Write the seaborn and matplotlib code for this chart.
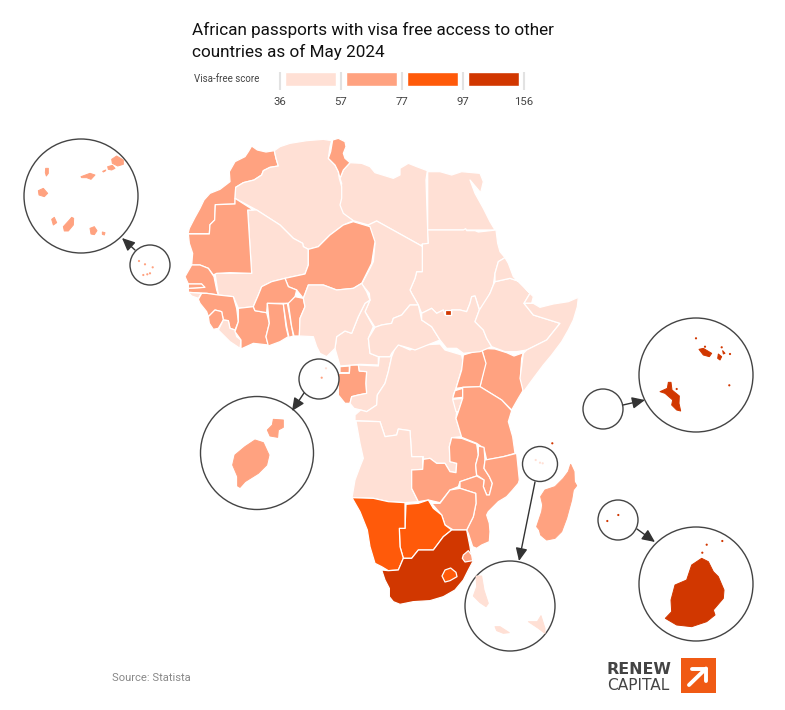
import matplotlib
matplotlib.use("Agg")
import matplotlib.pyplot as plt
from matplotlib.patches import Circle, Polygon, Rectangle
import pandas as pd
import seaborn as sns

# ---- legend data
BIN_LABELS = ["36-57", "57-77", "77-97", "97-156"]
BIN_EDGES = ["36", "57", "77", "97", "156"]
BIN_COLOURS = ["#FFE0D5", "#FFA280", "#FF5A0A", "#D13700"]
LIGHT, MEDIUM, ORANGE, DARK = BIN_COLOURS

# ---- outlines (panel A: origin 180,130; B: 320,130; C: 330,340; 1/3 px units)
MOROCCO = [(215,48),(232,60),(258,66),(283,62),(288,85),(295,108),(270,112),(250,122),(245,135),(222,150),(190,158),(167,172),(165,222),(106,224),(104,270),(90,284),(88,311),(24,311),(28,295),(45,262),(60,235),(72,210),(90,190),(120,178),(150,155),(148,125),(165,95),(195,80),(205,65)]
ALGERIA = [(283,62),(300,50),(330,40),(380,32),(430,28),(455,32),(450,50),(445,85),(465,105),(475,125),(478,145),(485,170),(485,205),(480,225),(490,250),(520,272),(490,285),(450,315),(415,350),(385,358),(370,350),(368,340),(340,325),(300,285),(230,240),(165,205),(167,172),(190,158),(222,150),(245,135),(250,122),(270,112),(295,108),(288,85)]
TUNISIA = [(458,30),(475,25),(495,35),(498,50),(490,70),(495,85),(510,98),(490,120),(480,145),(475,125),(465,105),(445,85),(452,65)]
NIGER = [(520,275),(570,290),(585,335),(575,400),(545,460),(520,475),(470,480),(430,465),(385,465),(370,505),(350,480),(325,470),(315,445),(375,432),(385,405),(385,358),(415,350),(450,315),(490,285)]
MALI = [(230,240),(300,285),(340,325),(368,340),(370,350),(385,358),(385,405),(375,432),(315,445),(275,455),(245,470),(235,495),(220,530),(175,535),(160,500),(115,495),(105,430),(215,430),(203,240)]
MAURITANIA = [(165,205),(220,240),(203,240),(215,430),(150,428),(110,430),(100,435),(85,415),(60,405),(35,405),(38,370),(28,340),(25,312),(88,312),(90,284),(104,270),(106,224),(165,222)]
SENEGAL = [(35,405),(60,405),(85,415),(102,440),(110,480),(115,495),(80,490),(25,487),(25,475),(70,472),(65,462),(25,462),(15,440)]
GAMBIA = [(25,462),(65,462),(75,472),(25,475)]
GUINEA_BISSAU = [(25,487),(65,490),(55,505),(35,498)]
GUINEA = [(80,490),(115,495),(160,500),(170,535),(175,575),(165,600),(150,595),(145,572),(130,570),(125,545),(105,540),(85,560),(80,545),(60,520),(55,508),(65,490)]
SIERRA_LEONE = [(85,560),(105,540),(125,545),(130,570),(115,595),(100,598),(88,580)]
LIBERIA = [(130,570),(145,572),(150,595),(165,600),(170,620),(183,630),(180,655),(150,635),(115,600)]
IVORY_COAST = [(175,535),(220,530),(225,542),(260,548),(268,580),(258,620),(265,645),(220,640),(183,657),(183,630),(165,605),(175,575)]
BURKINA = [(315,445),(325,470),(350,480),(345,500),(330,520),(262,520),(260,548),(225,542),(220,530),(235,495),(245,470),(275,455)]
GHANA = [(262,520),(310,522),(318,590),(325,620),(300,635),(265,648),(258,620),(268,580)]
TOGO = [(310,522),(322,520),(335,590),(340,618),(327,622),(320,590)]
BENIN = [(325,520),(345,500),(370,505),(375,530),(360,565),(358,618),(342,618),(335,590)]
NIGERIA = [(385,465),(430,465),(470,480),(520,475),(545,460),(560,485),(570,510),(555,520),(535,560),(515,610),(495,603),(470,620),(465,655),(440,680),(420,670),(410,650),(400,620),(358,618),(360,565),(375,530),(370,505)]

LIBYA = [(90,98),(125,100),(150,110),(165,128),(220,145),(240,135),(240,115),(265,100),(290,110),(322,122),(318,150),(323,300),(325,340),(305,348),(170,273),(145,285),(100,272),(65,250),(55,230),(62,195),(65,160),(60,145),(70,120)]
EGYPT = [(323,125),(360,125),(395,135),(425,125),(480,130),(490,155),(482,188),(450,150),(465,190),(490,235),(510,275),(525,300),(323,300)]
SUDAN = [(323,300),(430,300),(437,296),(440,302),(465,302),(475,306),(528,300),(533,340),(540,365),(555,383),(535,395),(525,430),(520,465),(510,490),(490,530),(478,538),(465,498),(455,500),(450,520),(440,545),(420,540),(395,540),(395,555),(375,555),(370,540),(350,550),(335,535),(305,550),(295,525),(275,490),(270,480),(285,445),(290,425),(307,425),(307,342),(325,340)]
CHAD = [(170,273),(305,348),(307,342),(307,425),(290,425),(285,445),(270,480),(275,490),(295,525),(270,525),(245,555),(220,565),(215,580),(185,585),(165,592),(135,545),(150,510),(148,490),(125,462),(150,415),(160,395),(165,340),(152,312),(145,285)]
CAMEROON = [(150,510),(135,520),(115,560),(95,610),(75,603),(50,620),(45,655),(55,690),(60,708),(120,703),(175,705),(175,680),(150,670),(145,625),(160,590),(135,545)]
CAR = [(145,625),(165,592),(185,585),(215,580),(220,565),(245,555),(270,525),(295,525),(305,570),(335,590),(360,630),(335,640),(285,660),(270,655),(235,645),(215,670),(210,680),(175,680),(150,670)]
SOUTH_SUDAN = [(305,550),(335,535),(350,550),(370,540),(375,555),(395,555),(395,540),(420,540),(440,545),(450,520),(455,500),(465,498),(478,540),(465,575),(490,600),(500,625),(515,650),(480,665),(430,670),(410,655),(380,655),(360,630),(335,590),(305,570)]
ETHIOPIA = [(525,455),(570,445),(600,455),(630,490),(612,520),(640,555),(720,580),(680,630),(620,660),(590,665),(555,665),(515,650),(500,625),(490,600),(465,575),(478,540),(510,490),(520,465)]
ERITREA = [(535,395),(555,383),(565,400),(580,440),(630,490),(600,455),(570,445),(525,455),(525,430)]
DJIBOUTI = [(630,490),(640,500),(635,520),(612,520)]
SOMALIA = [(640,520),(660,532),(700,522),(745,515),(775,502),(772,530),(760,570),(745,600),(725,635),(695,675),(670,705),(640,745),(610,786),(600,745),(610,670),(620,660),(680,630),(720,580),(640,555),(612,520)]
ENCLAVE = [(375,540),(392,540),(392,555),(375,555)]

EQ_GUINEA = [(30,80),(58,78),(58,98),(30,98)]
GABON = [(60,75),(85,75),(88,93),(110,95),(108,130),(110,160),(85,165),(65,170),(60,190),(45,190),(25,165),(25,100),(58,100)]
CONGO = [(60,190),(65,170),(85,165),(110,160),(108,130),(110,95),(88,93),(85,75),(145,78),(148,50),(185,50),(175,95),(165,130),(142,165),(140,195),(110,215),(92,210),(72,205)]
DRC = [(185,50),(200,12),(240,30),(270,15),(330,12),(345,30),(395,45),(400,70),(378,145),(370,165),(380,215),(378,235),(395,290),(365,293),(358,320),(360,365),(380,370),(378,398),(360,395),(345,370),(320,370),(300,355),(280,358),(280,350),(245,350),(240,272),(205,267),(200,285),(165,290),(150,245),(75,242),(75,225),(92,210),(110,215),(140,195),(142,165),(165,130),(175,95)]
ANGOLA = [(78,243),(150,245),(165,290),(200,285),(205,267),(240,272),(245,350),(278,350),(278,388),(245,390),(245,445),(265,485),(225,488),(175,485),(130,475),(66,473),(75,420),(90,380),(100,355),(90,310)]
KENYA = [(455,25),(495,27),(530,38),(552,48),(580,38),(575,55),(572,100),(580,150),(565,175),(545,210),(515,180),(450,140),(460,95),(465,65)]
UGANDA = [(400,45),(455,28),(468,70),(450,140),(400,142),(378,145),(395,90)]
RWANDA = [(375,152),(398,145),(398,172),(368,175)]
BURUNDI = [(368,178),(398,175),(385,215),(378,215)]
TANZANIA = [(398,142),(450,140),(515,180),(545,212),(535,245),(548,290),(555,340),(520,350),(470,360),(462,325),(440,310),(395,292),(378,235),(385,215),(398,175)]
ZAMBIA = [(245,390),(278,388),(280,358),(300,355),(320,370),(345,370),(360,395),(378,398),(380,370),(360,365),(358,320),(365,293),(395,295),(440,312),(445,345),(437,375),(440,408),(390,425),(385,440),(360,450),(330,488),(295,480),(265,485),(245,445)]
MALAWI = [(445,318),(462,322),(465,360),(462,385),(478,410),(487,430),(478,465),(470,465),(460,440),(462,420),(440,405),(437,375),(445,345)]
MOZAMBIQUE = [(465,360),(520,350),(560,340),(568,420),(565,430),(548,450),(530,470),(505,485),(490,500),(475,515),(470,525),(478,550),(480,575),(478,605),(455,615),(440,625),(428,620),(415,580),(410,570),(430,530),(438,490),(437,460),(390,445),(390,425),(440,408),(462,420),(460,440),(470,465),(478,465),(487,430),(478,410),(462,385)]
ZIMBABWE = [(330,490),(360,450),(390,445),(437,460),(438,490),(430,530),(410,570),(370,570),(345,555),(335,525),(305,490)]
BOTSWANA = [(228,493),(265,490),(295,480),(310,505),(335,525),(345,555),(365,570),(340,590),(310,630),(265,630),(245,655),(220,655),(210,620),(208,565),(225,565)]
NAMIBIA = [(66,473),(130,475),(175,485),(225,488),(225,565),(208,565),(210,620),(220,655),(205,690),(175,692),(155,680),(135,670),(120,620),(112,570),(90,515)]
SOUTH_AFRICA = [(155,690),(175,692),(205,690),(220,655),(245,655),(265,630),(310,630),(340,590),(365,570),(410,570),(420,620),(425,655),(432,658),(415,690),(400,720),(375,750),(340,770),(300,782),(250,785),(210,793),(190,785),(178,770),(178,745),(165,720)]
ESWATINI = [(400,645),(415,632),(425,645),(428,662),(405,666),(397,655)]
LESOTHO = [(336,708),(345,690),(362,684),(378,697),(381,710),(360,722),(345,726)]

PANEL_A = [(MOROCCO,MEDIUM),(ALGERIA,LIGHT),(TUNISIA,MEDIUM),(MALI,LIGHT),(MAURITANIA,MEDIUM),(NIGER,MEDIUM),(SENEGAL,MEDIUM),(GAMBIA,MEDIUM),(GUINEA_BISSAU,LIGHT),(GUINEA,MEDIUM),(SIERRA_LEONE,MEDIUM),(LIBERIA,LIGHT),(IVORY_COAST,MEDIUM),(BURKINA,MEDIUM),(GHANA,MEDIUM),(TOGO,MEDIUM),(BENIN,MEDIUM),(NIGERIA,LIGHT)]
PANEL_B = [(LIBYA,LIGHT),(EGYPT,LIGHT),(SUDAN,LIGHT),(CHAD,LIGHT),(CAMEROON,LIGHT),(CAR,LIGHT),(SOUTH_SUDAN,LIGHT),(ETHIOPIA,LIGHT),(ERITREA,LIGHT),(DJIBOUTI,LIGHT),(SOMALIA,LIGHT),(ENCLAVE,DARK)]
PANEL_C = [(EQ_GUINEA,MEDIUM),(GABON,MEDIUM),(CONGO,LIGHT),(DRC,LIGHT),(ANGOLA,LIGHT),(KENYA,MEDIUM),(UGANDA,MEDIUM),(RWANDA,MEDIUM),(BURUNDI,LIGHT),(TANZANIA,MEDIUM),(ZAMBIA,MEDIUM),(MALAWI,MEDIUM),(MOZAMBIQUE,MEDIUM),(ZIMBABWE,MEDIUM),(BOTSWANA,ORANGE),(NAMIBIA,ORANGE),(SOUTH_AFRICA,DARK),(ESWATINI,MEDIUM),(LESOTHO,ORANGE)]

# ---- islands
MADAGASCAR = [[(122,28),(132,50),(133,80),(140,92),(130,105),(125,135),(110,190),(95,230),(75,250),(50,255),(32,240),(28,225),(20,215),(35,170),(38,150),(32,125),(45,105),(75,95),(100,70),(115,50)]]
CAPE_VERDE = [
 [(290,88),(305,78),(325,90),(325,103),(308,108),(292,100)],
 [(278,110),(292,106),(300,115),(290,120),(280,118)],
 [(198,140),(225,130),(240,135),(228,148),(215,143),(200,143)],
 [(92,115),(100,115),(100,130),(94,138),(91,128)],
 [(70,182),(85,175),(98,190),(88,200),(72,195)],
 [(110,268),(118,262),(125,278),(115,285)],
 [(145,290),(165,268),(170,262),(176,265),(175,285),(160,303),(148,303)],
 [(225,295),(238,290),(246,302),(238,314),(228,312)],
 [(262,306),(270,308),(268,315),(262,313)],
 [(263,124),(272,120),(272,122),(265,126)]]
SAO_TOME = [
 [(180,270),(205,278),(222,315),(215,345),(190,370),(150,395),(135,412),(128,408),(128,380),(113,345),(120,315),(150,290)],
 [(235,208),(265,210),(265,232),(250,240),(248,262),(225,258),(217,240),(232,225)]]
COMOROS = [
 [(48,408),(65,408),(72,450),(85,490),(78,500),(60,488),(40,468),(50,440)],
 [(105,560),(120,560),(148,578),(130,580),(110,572)],
 [(205,545),(232,545),(243,527),(255,565),(255,580),(235,565)]]
SEYCHELLES = [
 [(265,217),(273,217),(276,240),(298,258),(297,280),(302,303),(290,300),(275,285),(278,270),(255,250),(240,245),(262,235)],
 [(357,118),(370,115),(395,130),(388,140),(370,135)],
 [(415,132),(425,140),(420,150),(413,145)],
 [(428,122),(435,130),(430,132)]]
MAURITIUS = [
 [(365,745),(385,755),(400,785),(415,800),(432,840),(430,865),(400,900),(405,915),(380,935),(335,950),(290,945),(256,925),(275,905),(273,870),(285,825),(320,810),(335,765)]]

DOTS_X = [139.0,145.0,152.7,147.3,150.0,143.3, 321.7,326.0, 535.7,540.0,542.7,552.3, 676.7,729.3,705.0,721.7,696.0,730.0, 706.7,722.3,702.3, 618.3,607.3]
DOTS_Y = [261.0,264.3,267.3,274.3,273.3,275.0, 377.7,368.3, 460.0,462.7,463.3,443.3, 389.0,385.3,346.7,347.3,338.3,354.0, 544.7,541.0,552.7, 515.0,521.0]
DOTS_C = [MEDIUM]*6+[MEDIUM,LIGHT]+[LIGHT]*3+[DARK]+[DARK]*6+[DARK]*5

CIRCLES_X = [81,150,257,319,510,540,696,603,696,618]
CIRCLES_Y = [196,265,453,379,606,464,375,409,584,520]
CIRCLES_R = [57,20,56.5,20,45,17.5,57,20,57,20]
ARROW_TAIL = [(135,250),(304,393),(535,482),(623,405),(637,529)]
ARROW_TIP = [(122,238),(292,411),(519,561),(645,400),(655,542)]

TITLE = "African passports with visa free access to other\ncountries as of May 2024"
SOURCE = "Source: Statista"
LOGO_SHAFT_X = [689, 706]
LOGO_SHAFT_Y = [685, 668.5]
LOGO_HEAD_X = [692, 706, 706]
LOGO_HEAD_Y = [668.5, 668.5, 681]

sns.set_theme(style="white")
plt.rcParams["font.family"] = ["Roboto", "DejaVu Sans"]

fig = plt.figure(figsize=(7.85, 7.10), dpi=100, facecolor="white")
ax = fig.add_axes([0, 0, 1, 1])

def to_px(points, ox, oy):
    return [(ox + x / 3, oy + y / 3) for x, y in points]

for panel, ox, oy in ((PANEL_C, 330, 340), (PANEL_B, 320, 130), (PANEL_A, 180, 130)):
    for shape, colour in panel:
        ax.add_patch(Polygon(to_px(shape, ox, oy), closed=True, facecolor=colour,
                             edgecolor="white", linewidth=0.9, joinstyle="round", zorder=2))

for x, y, r in zip(CIRCLES_X, CIRCLES_Y, CIRCLES_R):
    ax.add_patch(Circle((x, y), r, facecolor="white", edgecolor="#444444", linewidth=1.0, zorder=3))

ISLANDS = [(MADAGASCAR, 530, 455, MEDIUM), (CAPE_VERDE, 15, 130, MEDIUM), (SAO_TOME, 195, 350, MEDIUM),
           (COMOROS, 460, 440, LIGHT), (SEYCHELLES, 580, 310, DARK), (MAURITIUS, 580, 310, DARK)]
for shapes, ox, oy, colour in ISLANDS:
    for shape in shapes:
        ax.add_patch(Polygon(to_px(shape, ox, oy), closed=True, facecolor=colour, edgecolor=colour,
                             linewidth=0.7, joinstyle="round", zorder=4))

dots = pd.DataFrame({"x": DOTS_X, "y": DOTS_Y, "c": DOTS_C})
sns.scatterplot(data=dots, x="x", y="y", hue="c", palette={c: c for c in BIN_COLOURS}, s=2.5,
                linewidth=0, legend=False, ax=ax, zorder=5)

for tail, tip in zip(ARROW_TAIL, ARROW_TIP):
    ax.annotate("", xy=tip, xytext=tail, zorder=6,
                arrowprops=dict(arrowstyle="-|>,head_length=0.7,head_width=0.32", color="#333333",
                                lw=1.0, shrinkA=0, shrinkB=0, mutation_scale=11))

ax.text(192, 41, TITLE, fontsize=12.3, color="#111111", va="center", ha="left", linespacing=1.42)
ax.text(194, 79, "Visa-free score", fontsize=7.0, color="#444444", va="center", ha="left")
ax.text(112, 678, SOURCE, fontsize=8.1, color="#888888", va="center", ha="left")

# logo
ax.text(607, 670, "RENEW", fontsize=11.4, fontweight="bold", family="DejaVu Sans", color="#444444", va="center", ha="left")
ax.text(607, 686, "CAPITAL", fontsize=11.1, family="DejaVu Sans", color="#444444", va="center", ha="left")
ax.add_patch(Rectangle((681, 658), 35, 35, facecolor="#F05A14", edgecolor="none", zorder=3))
sns.lineplot(x=LOGO_SHAFT_X, y=LOGO_SHAFT_Y, color="white", lw=2.8, sort=False, estimator=None, ax=ax, zorder=4)
sns.lineplot(x=LOGO_HEAD_X, y=LOGO_HEAD_Y, color="white", lw=2.8, sort=False, estimator=None, ax=ax, zorder=4)

ax.set_xlim(0, 785)
ax.set_ylim(710, 0)
ax.set_axis_off()

# colour-scale legend
leg = fig.add_axes([280 / 785, 1 - 90 / 710, 244 / 785, 18 / 710])
frame = pd.DataFrame({"bin": BIN_LABELS, "v": [1, 1, 1, 1]})
sns.barplot(data=frame, x="bin", y="v", hue="bin", palette=BIN_COLOURS, width=0.82, dodge=False,
            legend=False, ax=leg, saturation=1)
leg.set_xlim(-0.5, 3.5)
leg.set_ylim(18 / 14, 0)
ticks = [-0.5, 0.5, 1.5, 2.5, 3.5]
leg.vlines(ticks, 0, 18 / 14, color="#E2E2E2", lw=1.5, clip_on=False)
leg.set_xticks(ticks, BIN_EDGES)
leg.tick_params(axis="x", length=0, pad=5, labelsize=8.2, labelcolor="#444444")
leg.set_yticks([])
leg.set_xlabel("")
leg.set_ylabel("")
leg.patch.set_alpha(0)
sns.despine(ax=leg, left=True, bottom=True)

fig.savefig("out.png", dpi=100)
